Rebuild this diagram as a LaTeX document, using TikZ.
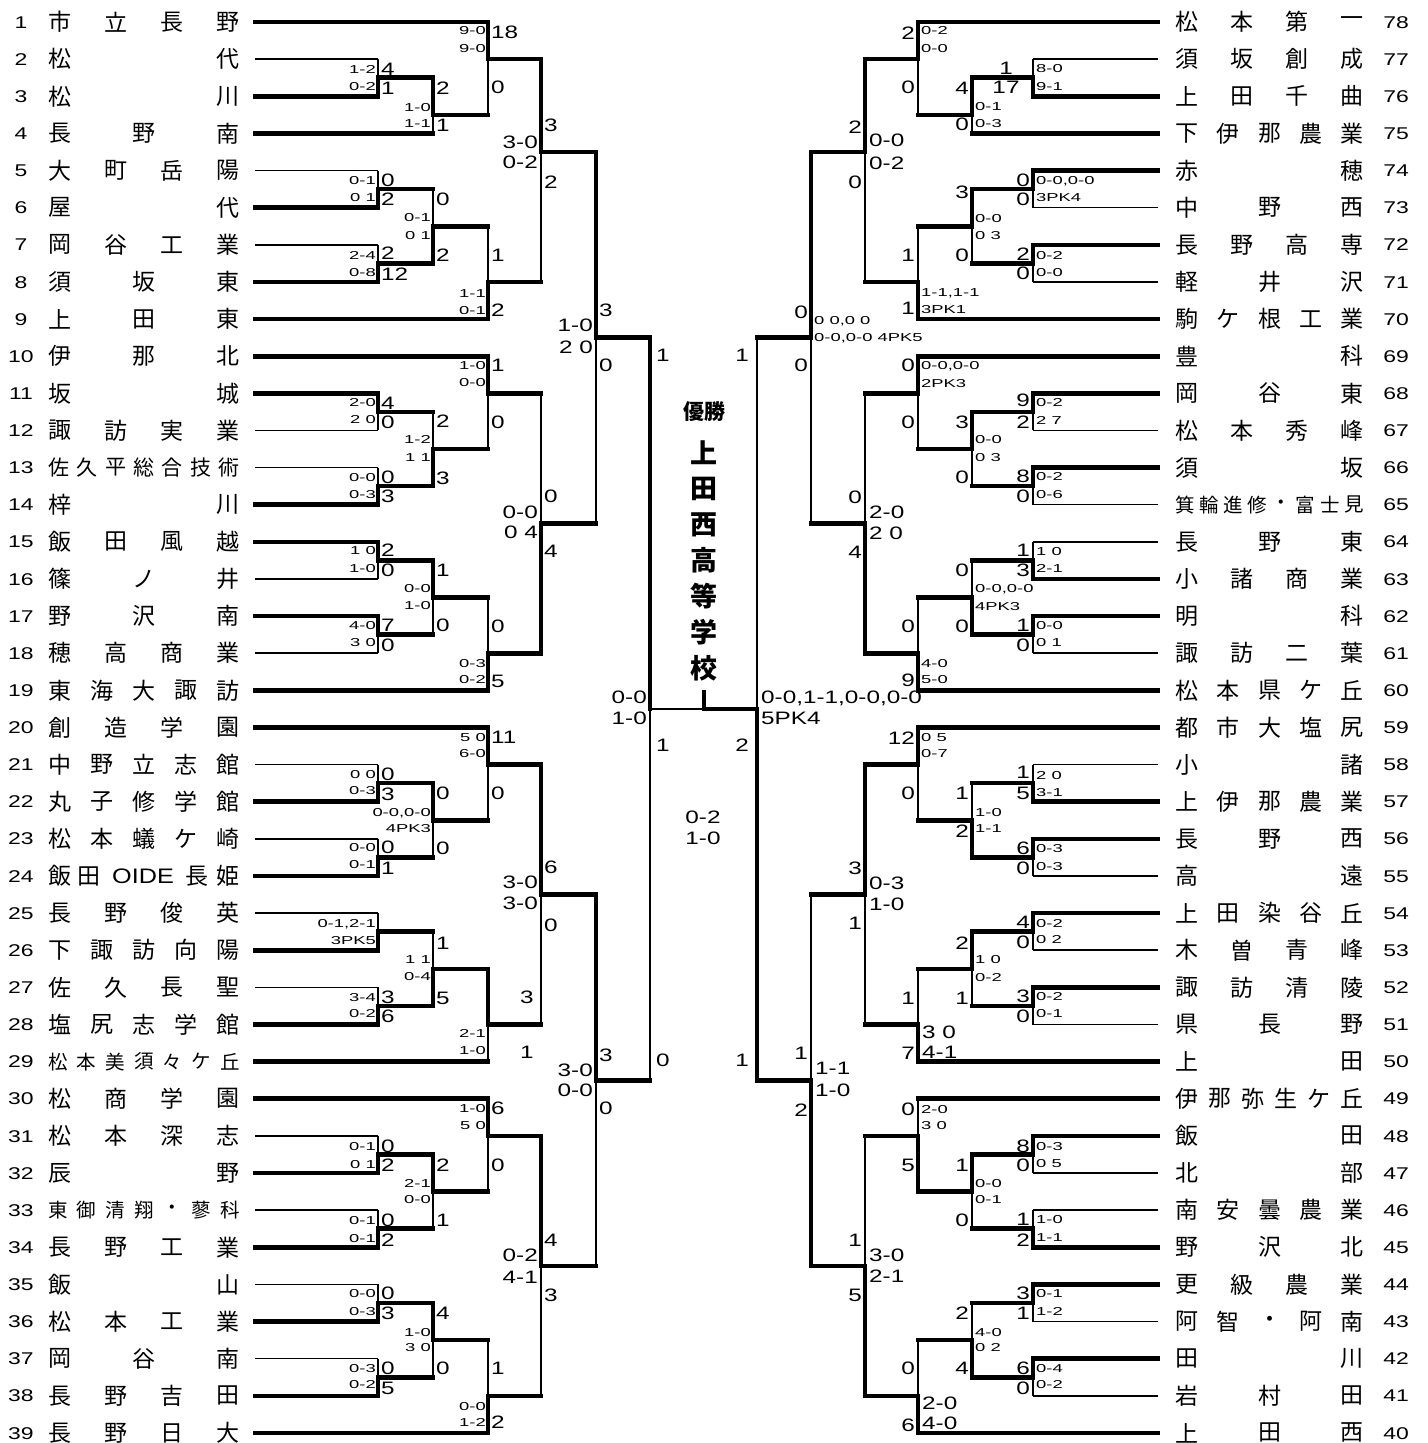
\documentclass[tikz,border=0pt]{standalone}
\usepackage{fontspec}
\setmainfont{Liberation Sans}
\newfontfamily\jp{Noto Sans CJK JP}
\newcount\tc
\tikzset{
 thk/.style={line width=4.6pt, line cap=rect},
 thn/.style={line width=1.5pt},
 hs/.style={inner sep=0pt, font=\fontsize{11.5}{12}\selectfont, text height=8.2pt, text depth=0pt},
 sc/.style={inner sep=0pt, font=\fontsize{18}{19}\selectfont, text height=12.9pt, text depth=0pt},
 num/.style={inner sep=0pt, font=\fontsize{17}{18}\selectfont, text height=12.2pt, text depth=0pt},
 nm/.style={inner sep=0pt, font=\jp\fontsize{23}{24}\selectfont},
 nms/.style={inner sep=0pt, font=\jp\fontsize{21}{22}\selectfont},
 nmt/.style={inner sep=0pt, font=\jp\fontsize{19.5}{20}\selectfont},
 champ/.style={inner sep=0pt, font=\jp\bfseries\fontsize{27}{28}\selectfont},
 champs/.style={inner sep=0pt, font=\jp\bfseries\fontsize{21}{22}\selectfont},
}
\newcommand\sm[1]{\scalebox{1.6}[1]{#1}}
\newcommand\bg[1]{\scalebox{1.35}[1]{#1}}
% bracket pieces
\newcommand\Wt[4]{\draw[thn] (#1,#4)--(#1,#3); \draw[thk] (#1,#2)--(#1,#4);}
\newcommand\Wb[4]{\draw[thn] (#1,#2)--(#1,#4); \draw[thk] (#1,#4)--(#1,#3);}
\newcommand\Hk[3]{\draw[thk] (#1,#3)--(#2,#3);}
\newcommand\Hn[3]{\draw[thn] (#1,#3)--(#2,#3);}
% texts
\newcommand\hL[3]{\global\advance\tc by 1 \node[hs,anchor=east] (t\the\tc) at (#1-2,#2) {\sm{#3}};}
\newcommand\HL[3]{\global\advance\tc by 1 \node[sc,anchor=east] (t\the\tc) at (#1-3,#2) {\bg{#3}};}
\newcommand\sL[3]{\global\advance\tc by 1 \node[sc,anchor=west] (t\the\tc) at (#1+3,#2) {\bg{#3}};}
\newcommand\hR[3]{\global\advance\tc by 1 \node[hs,anchor=west] (t\the\tc) at (#1+3,#2) {\sm{#3}};}
\newcommand\HR[3]{\global\advance\tc by 1 \node[sc,anchor=west] (t\the\tc) at (#1+4,#2) {\bg{#3}};}
\newcommand\sR[3]{\global\advance\tc by 1 \node[sc,anchor=east] (t\the\tc) at (#1-3,#2) {\bg{#3}};}
\newcommand\sC[3]{\global\advance\tc by 1 \node[sc] (t\the\tc) at (#1,#2) {\bg{#3}};}
% names: [style] x0 x1 y n id list
\newcommand\TN[7][nm]{\foreach \c [count=\i] in {#7} {\node[#1] (#6c\i) at ({#2+(\i-1)*(#3-#2)/(#5-1)},#4) {\c};}}
\newcommand\LN[3]{\node[num] (LN#1) at (21,#2) {\bg{#1}};}
\newcommand\RN[3]{\node[num] (RN#1) at (1396,#2) {\bg{#1}};}
\begin{document}
\begin{tikzpicture}[x=1pt,y=-1pt]
\fill[white] (0,0) rectangle (1427,1443);
\useasboundingbox (0,0) rectangle (1427,1443);

% ---------------- LEFT team lines
\foreach \y in {96.3,207.7,281.9,393.3,504.7,541.8,616.1,801.7,876.0,950.2,1024.5,1173.0,1247.3,1321.5,1395.8}
  {\draw[thk] (255,\y)--(378,\y);}
\foreach \y in {59.1,170.5,244.8,430.4,467.6,578.9,653.2,764.6,838.8,913.1,987.4,1135.9,1210.1,1284.4,1358.7}
  {\draw[thn] (255,\y)--(378,\y);}
\draw[thk] (255,133.4)--(433,133.4);
\foreach \y in {22.0,319.0,356.2,690.3,727.5,1061.6,1098.7,1432.9}
  {\draw[thk] (255,\y)--(488,\y);}

% ---------------- LEFT matches
\Wb{378}{59.1}{96.3}{77.7} \Hk{378}{433}{77.7}
\Wt{433}{77.7}{133.4}{114.8} \Hk{433}{488}{114.8}
\Wt{488}{22.0}{114.8}{59.1} \Hk{488}{541}{59.1}
\Wb{378}{170.5}{207.7}{189.1} \Hk{378}{433}{189.1}
\Wb{378}{244.8}{281.9}{263.4} \Hk{378}{433}{263.4}
\Wb{433}{189.1}{263.4}{226.2} \Hk{433}{488}{226.2}
\Wb{488}{226.2}{319.0}{281.9} \Hk{488}{541}{281.9}
\Wt{541}{59.1}{281.9}{152.0} \Hk{541}{596}{152.0}
\Wt{378}{393.3}{430.4}{411.9} \Hk{378}{433}{411.9}
\Wb{378}{467.6}{504.7}{486.1} \Hk{378}{433}{486.1}
\Wb{433}{411.9}{486.1}{449.0} \Hk{433}{488}{449.0}
\Wt{488}{356.2}{449.0}{393.3} \Hk{488}{541}{393.3}
\Wt{378}{541.8}{578.9}{560.4} \Hk{378}{433}{560.4}
\Wt{378}{616.1}{653.2}{634.6} \Hk{378}{433}{634.6}
\Wt{433}{560.4}{634.6}{597.5} \Hk{433}{488}{597.5}
\Wb{488}{597.5}{690.3}{653.2} \Hk{488}{541}{653.2}
\Wb{541}{393.3}{653.2}{523.2} \Hk{541}{596}{523.2}
\Wt{596}{152.0}{523.2}{337.6} \Hk{596}{650}{337.6}
\Wb{378}{764.6}{801.7}{783.1} \Hk{378}{433}{783.1}
\Wb{378}{838.8}{876.0}{857.4} \Hk{378}{433}{857.4}
\Wt{433}{783.1}{857.4}{820.3} \Hk{433}{488}{820.3}
\Wt{488}{727.5}{820.3}{764.6} \Hk{488}{541}{764.6}
\Wb{378}{913.1}{950.2}{931.7} \Hk{378}{433}{931.7}
\Wb{378}{987.4}{1024.5}{1005.9} \Hk{378}{433}{1005.9}
\Wb{433}{931.7}{1005.9}{968.8} \Hk{433}{488}{968.8}
\Wt{488}{968.8}{1061.6}{1024.5} \Hk{488}{541}{1024.5}
\Wt{541}{764.6}{1024.5}{894.5} \Hk{541}{596}{894.5}
\Wb{378}{1135.9}{1173.0}{1154.4} \Hk{378}{433}{1154.4}
\Wb{378}{1210.1}{1247.3}{1228.7} \Hk{378}{433}{1228.7}
\Wt{433}{1154.4}{1228.7}{1191.6} \Hk{433}{488}{1191.6}
\Wt{488}{1098.7}{1191.6}{1135.9} \Hk{488}{541}{1135.9}
\Wb{378}{1284.4}{1321.5}{1303.0} \Hk{378}{433}{1303.0}
\Wb{378}{1358.7}{1395.8}{1377.2} \Hk{378}{433}{1377.2}
\Wt{433}{1303.0}{1377.2}{1340.1} \Hk{433}{488}{1340.1}
\Wb{488}{1340.1}{1432.9}{1395.8} \Hk{488}{541}{1395.8}
\Wt{541}{1135.9}{1395.8}{1265.8} \Hk{541}{596}{1265.8}
\Wt{596}{894.5}{1265.8}{1080.2} \Hk{596}{650}{1080.2}
\Wt{650}{337.6}{1080.2}{708.9}

% ---------------- RIGHT team lines
\foreach \y in {96.3,170.5,244.8,393.3,467.6,578.9,616.1,801.7,838.8,913.1,987.4,1135.9,1247.3,1284.4,1358.7}
  {\draw[thk] (1158,\y)--(1033,\y);}
\foreach \y in {59.1,207.7,281.9,430.4,504.7,541.8,653.2,764.6,876.0,950.2,1024.5,1173.0,1210.1,1321.5,1395.8}
  {\draw[thn] (1158,\y)--(1033,\y);}
\draw[thk] (1158,133.4)--(972,133.4);
\foreach \y in {22.0,319.0,356.2,690.3,727.5,1061.6,1098.7,1432.9}
  {\draw[thk] (1158,\y)--(918,\y);}

% ---------------- RIGHT matches
\Wb{1033}{59.1}{96.3}{77.7} \Hk{1033}{972}{77.7}
\Wt{972}{77.7}{133.4}{114.8} \Hk{972}{918}{114.8}
\Wt{918}{22.0}{114.8}{59.1} \Hk{918}{865}{59.1}
\Wt{1033}{170.5}{207.7}{189.1} \Hk{1033}{972}{189.1}
\Wt{1033}{244.8}{281.9}{263.4} \Hk{1033}{972}{263.4}
\Wt{972}{189.1}{263.4}{226.2} \Hk{972}{918}{226.2}
\Wb{918}{226.2}{319.0}{281.9} \Hk{918}{865}{281.9}
\Wt{865}{59.1}{281.9}{152.0} \Hk{865}{811}{152.0}
\Wt{1033}{393.3}{430.4}{411.9} \Hk{1033}{972}{411.9}
\Wt{1033}{467.6}{504.7}{486.1} \Hk{1033}{972}{486.1}
\Wt{972}{411.9}{486.1}{449.0} \Hk{972}{918}{449.0}
\Wt{918}{356.2}{449.0}{393.3} \Hk{918}{865}{393.3}
\Wb{1033}{541.8}{578.9}{560.4} \Hk{1033}{972}{560.4}
\Wt{1033}{616.1}{653.2}{634.6} \Hk{1033}{972}{634.6}
\Wb{972}{560.4}{634.6}{597.5} \Hk{972}{918}{597.5}
\Wb{918}{597.5}{690.3}{653.2} \Hk{918}{865}{653.2}
\Wb{865}{393.3}{653.2}{523.2} \Hk{865}{811}{523.2}
\Wt{811}{152.0}{523.2}{337.6} \Hk{811}{757}{337.6}
\Wb{1033}{764.6}{801.7}{783.1} \Hk{1033}{972}{783.1}
\Wt{1033}{838.8}{876.0}{857.4} \Hk{1033}{972}{857.4}
\Wb{972}{783.1}{857.4}{820.3} \Hk{972}{918}{820.3}
\Wt{918}{727.5}{820.3}{764.6} \Hk{918}{865}{764.6}
\Wt{1033}{913.1}{950.2}{931.7} \Hk{1033}{972}{931.7}
\Wt{1033}{987.4}{1024.5}{1005.9} \Hk{1033}{972}{1005.9}
\Wt{972}{931.7}{1005.9}{968.8} \Hk{972}{918}{968.8}
\Wb{918}{968.8}{1061.6}{1024.5} \Hk{918}{865}{1024.5}
\Wt{865}{764.6}{1024.5}{894.5} \Hk{865}{811}{894.5}
\Wt{1033}{1135.9}{1173.0}{1154.4} \Hk{1033}{972}{1154.4}
\Wb{1033}{1210.1}{1247.3}{1228.7} \Hk{1033}{972}{1228.7}
\Wt{972}{1154.4}{1228.7}{1191.6} \Hk{972}{918}{1191.6}
\Wb{918}{1098.7}{1191.6}{1135.9} \Hk{918}{865}{1135.9}
\Wt{1033}{1284.4}{1321.5}{1303.0} \Hk{1033}{972}{1303.0}
\Wt{1033}{1358.7}{1395.8}{1377.2} \Hk{1033}{972}{1377.2}
\Wb{972}{1303.0}{1377.2}{1340.1} \Hk{972}{918}{1340.1}
\Wb{918}{1340.1}{1432.9}{1395.8} \Hk{918}{865}{1395.8}
\Wb{865}{1135.9}{1395.8}{1265.8} \Hk{865}{811}{1265.8}
\Wb{811}{894.5}{1265.8}{1080.2} \Hk{811}{757}{1080.2}
\Wb{757}{337.6}{1080.2}{708.9}

% ---------------- FINAL
\draw[thn] (650,708.9)--(704,708.9);
\draw[thk] (704,708.9)--(757,708.9);
\draw[thk] (704,692)--(704,708.9);

% ---------------- LEFT scores
\hL{378}{69}{1-2} \hL{378}{86}{0-2} \sL{378}{69}{4} \sL{378}{88}{1}
\hL{433}{107}{1-0} \hL{433}{123}{1-1} \sL{433}{88}{2} \sL{433}{125}{1}
\hL{488}{30}{9-0} \hL{488}{48}{9-0} \sL{488}{32}{18} \sL{488}{87}{0}
\hL{378}{180}{0-1} \hL{378}{197}{0 1} \sL{378}{180}{0} \sL{378}{199}{2}
\hL{378}{255}{2-4} \hL{378}{272}{0-8} \sL{378}{253}{2} \sL{378}{274}{12}
\hL{433}{217}{0-1} \hL{433}{235}{0 1} \sL{433}{199}{0} \sL{433}{255}{2}
\hL{488}{293}{1-1} \hL{488}{310}{0-1} \sL{488}{255}{1} \sL{488}{310}{2}
\HL{541}{142}{3-0} \HL{541}{162}{0-2} \sL{541}{125}{3} \sL{541}{182}{2}
\hL{378}{402}{2-0} \hL{378}{419}{2 0} \sL{378}{403}{4} \sL{378}{422}{0}
\hL{378}{477}{0-0} \hL{378}{494}{0-3} \sL{378}{477}{0} \sL{378}{496}{3}
\hL{433}{439}{1-2} \hL{433}{457}{1 1} \sL{433}{421}{2} \sL{433}{478}{3}
\hL{488}{365}{1-0} \hL{488}{382}{0-0} \sL{488}{365}{1} \sL{488}{422}{0}
\hL{378}{550}{1 0} \hL{378}{568}{1-0} \sL{378}{550}{2} \sL{378}{570}{0}
\hL{378}{625}{4-0} \hL{378}{642}{3 0} \sL{378}{625}{7} \sL{378}{645}{0}
\hL{433}{588}{0-0} \hL{433}{605}{1-0} \sL{433}{570}{1} \sL{433}{625}{0}
\hL{488}{663}{0-3} \hL{488}{679}{0-2} \sL{488}{626}{0} \sL{488}{681}{5}
\HL{541}{512}{0-0} \HL{541}{532}{0 4} \sL{541}{496}{0} \sL{541}{551}{4}
\HL{596}{325}{1-0} \HL{596}{347}{2 0} \sL{596}{310}{3} \sL{596}{365}{0}
\hL{378}{774}{0 0} \hL{378}{790}{0-3} \sL{378}{774}{0} \sL{378}{794}{3}
\hL{378}{847}{0-0} \hL{378}{864}{0-1} \sL{378}{847}{0} \sL{378}{868}{1}
\hL{433}{812}{0-0,0-0} \hL{433}{828}{4PK3} \sL{433}{793}{0} \sL{433}{848}{0}
\hL{488}{737}{5 0} \hL{488}{753}{6-0} \sL{488}{737}{11} \sL{488}{793}{0}
\hL{378}{923}{0-1,2-1} \hL{378}{940}{3PK5}
\hL{378}{997}{3-4} \hL{378}{1013}{0-2} \sL{378}{997}{3} \sL{378}{1016}{6}
\hL{433}{959}{1 1} \hL{433}{976}{0-4} \sL{433}{943}{1} \sL{433}{998}{5}
\hL{488}{1033}{2-1} \hL{488}{1050}{1-0} \sC{527}{997}{3} \sC{527}{1052}{1}
\HL{541}{882}{3-0} \HL{541}{903}{3-0} \sL{541}{867}{6} \sL{541}{925}{0}
\hL{378}{1146}{0-1} \hL{378}{1164}{0 1} \sL{378}{1146}{0} \sL{378}{1165}{2}
\hL{378}{1220}{0-1} \hL{378}{1238}{0-1} \sL{378}{1220}{0} \sL{378}{1240}{2}
\hL{433}{1183}{2-1} \hL{433}{1199}{0-0} \sL{433}{1165}{2} \sL{433}{1220}{1}
\hL{488}{1108}{1-0} \hL{488}{1125}{5 0} \sL{488}{1108}{6} \sL{488}{1165}{0}
\hL{378}{1293}{0-0} \hL{378}{1311}{0-3} \sL{378}{1293}{0} \sL{378}{1313}{3}
\hL{378}{1368}{0-3} \hL{378}{1384}{0-2} \sL{378}{1368}{0} \sL{378}{1388}{5}
\hL{433}{1332}{1-0} \hL{433}{1347}{3 0} \sL{433}{1313}{4} \sL{433}{1368}{0}
\hL{488}{1406}{0-0} \hL{488}{1422}{1-2} \sL{488}{1368}{1} \sL{488}{1422}{2}
\HL{541}{1255}{0-2} \HL{541}{1277}{4-1} \sL{541}{1240}{4} \sL{541}{1295}{3}
\HL{596}{1070}{3-0} \HL{596}{1090}{0-0} \sL{596}{1055}{3} \sL{596}{1108}{0}
\HL{650}{697}{0-0} \HL{650}{718}{1-0} \sL{653}{355}{1} \sL{653}{1060}{0}
% final
\sL{653}{745}{1} \sR{752}{745}{2} \sC{703}{817}{0-2} \sC{703}{838}{1-0}

% ---------------- RIGHT scores
\hR{1033}{68}{8-0} \hR{1033}{86}{9-1} \sC{1006}{68}{1} \sC{1006}{87}{17}
\hR{972}{106}{0-1} \hR{972}{123}{0-3} \sR{972}{88}{4} \sR{972}{124}{0}
\hR{918}{30}{0-2} \hR{918}{48}{0-0} \sR{918}{33}{2} \sR{918}{87}{0}
\hR{1033}{180}{0-0,0-0} \hR{1033}{197}{3PK4} \sR{1033}{180}{0} \sR{1033}{199}{0}
\hR{1033}{255}{0-2} \hR{1033}{272}{0-0} \sR{1033}{254}{2} \sR{1033}{273}{0}
\hR{972}{218}{0-0} \hR{972}{235}{0 3} \sR{972}{192}{3} \sR{972}{255}{0}
\hR{918}{292}{1-1,1-1} \hR{918}{309}{3PK1} \sR{918}{255}{1} \sR{918}{308}{1}
\HR{865}{140}{0-0} \HR{865}{163}{0-2} \sR{865}{127}{2} \sR{865}{182}{0}
\hR{1033}{402}{0-2} \hR{1033}{420}{2 7} \sR{1033}{400}{9} \sR{1033}{422}{2}
\hR{1033}{476}{0-2} \hR{1033}{494}{0-6} \sR{1033}{476}{8} \sR{1033}{496}{0}
\hR{972}{439}{0-0} \hR{972}{457}{0 3} \sR{972}{422}{3} \sR{972}{477}{0}
\hR{918}{365}{0-0,0-0} \hR{918}{383}{2PK3} \sR{918}{365}{0} \sR{918}{422}{0}
\hR{1033}{551}{1 0} \hR{1033}{568}{2-1} \sR{1033}{550}{1} \sR{1033}{570}{3}
\hR{1033}{625}{0-0} \hR{1033}{642}{0 1} \sR{1033}{625}{1} \sR{1033}{645}{0}
\hR{972}{588}{0-0,0-0} \hR{972}{606}{4PK3} \sR{972}{570}{0} \sR{972}{626}{0}
\hR{918}{663}{4-0} \hR{918}{679}{5-0} \sR{918}{626}{0} \sR{918}{680}{9}
\HR{865}{512}{2-0} \HR{865}{533}{2 0} \sR{865}{497}{0} \sR{865}{552}{4}
\hR{811}{320}{0 0,0 0} \hR{811}{337}{0-0,0-0 4PK5} \sR{811}{312}{0} \sR{811}{365}{0}
\hR{1033}{775}{2 0} \hR{1033}{792}{3-1} \sR{1033}{772}{1} \sR{1033}{793}{5}
\hR{1033}{848}{0-3} \hR{1033}{866}{0-3} \sR{1033}{848}{6} \sR{1033}{868}{0}
\hR{972}{812}{1-0} \hR{972}{828}{1-1} \sR{972}{793}{1} \sR{972}{831}{2}
\hR{918}{737}{0 5} \hR{918}{753}{0-7} \sR{918}{738}{12} \sR{918}{793}{0}
\hR{1033}{923}{0-2} \hR{1033}{939}{0 2} \sR{1033}{922}{4} \sR{1033}{942}{0}
\hR{1033}{996}{0-2} \hR{1033}{1013}{0-1} \sR{1033}{996}{3} \sR{1033}{1016}{0}
\hR{972}{959}{1 0} \hR{972}{977}{0-2} \sR{972}{943}{2} \sR{972}{998}{1}
\HR{918}{1032}{3 0} \HR{918}{1052}{4-1} \sR{918}{998}{1} \sR{918}{1053}{7}
\HR{865}{883}{0-3} \HR{865}{904}{1-0} \sR{865}{868}{3} \sR{865}{923}{1}
\hR{1033}{1146}{0-3} \hR{1033}{1163}{0 5} \sR{1033}{1146}{8} \sR{1033}{1165}{0}
\hR{1033}{1219}{1-0} \hR{1033}{1237}{1-1} \sR{1033}{1219}{1} \sR{1033}{1240}{2}
\hR{972}{1183}{0-0} \hR{972}{1199}{0-1} \sR{972}{1165}{1} \sR{972}{1220}{0}
\hR{918}{1109}{2-0} \hR{918}{1125}{3 0} \sR{918}{1109}{0} \sR{918}{1165}{5}
\hR{1033}{1293}{0-1} \hR{1033}{1311}{1-2} \sR{1033}{1293}{3} \sR{1033}{1313}{1}
\hR{1033}{1368}{0-4} \hR{1033}{1384}{0-2} \sR{1033}{1368}{6} \sR{1033}{1388}{0}
\hR{972}{1332}{4-0} \hR{972}{1347}{0 2} \sR{972}{1313}{2} \sR{972}{1368}{4}
\HR{918}{1403}{2-0} \HR{918}{1423}{4-0} \sR{918}{1368}{0} \sR{918}{1425}{6}
\HR{865}{1255}{3-0} \HR{865}{1276}{2-1} \sR{865}{1240}{1} \sR{865}{1295}{5}
\HR{811}{1068}{1-1} \HR{811}{1090}{1-0} \sR{811}{1053}{1} \sR{811}{1110}{2}
\HR{757}{697}{0-0,1-1,0-0,0-0} \HR{757}{718}{5PK4} \sR{752}{355}{1} \sR{752}{1060}{1}

% ---------------- champion
\node[champs] (win) at (704,412) {優勝};
\foreach \c [count=\i] in {上,田,西,高,等,学,校}
  {\node[champ] (ch\i) at (704,{453+(\i-1)*35.8}) {\c};}

% ---------------- LEFT names
\LN{1}{22.0}{} \TN{60}{228}{22.0}{4}{L1}{市,立,長,野}
\LN{2}{59.1}{} \TN{60}{228}{59.1}{2}{L2}{松,代}
\LN{3}{96.3}{} \TN{60}{228}{96.3}{2}{L3}{松,川}
\LN{4}{133.4}{} \TN{60}{228}{133.4}{3}{L4}{長,野,南}
\LN{5}{170.5}{} \TN{60}{228}{170.5}{4}{L5}{大,町,岳,陽}
\LN{6}{207.7}{} \TN{60}{228}{207.7}{2}{L6}{屋,代}
\LN{7}{244.8}{} \TN{60}{228}{244.8}{4}{L7}{岡,谷,工,業}
\LN{8}{281.9}{} \TN{60}{228}{281.9}{3}{L8}{須,坂,東}
\LN{9}{319.0}{} \TN{60}{228}{319.0}{3}{L9}{上,田,東}
\LN{10}{356.2}{} \TN{60}{228}{356.2}{3}{L10}{伊,那,北}
\LN{11}{393.3}{} \TN{60}{228}{393.3}{2}{L11}{坂,城}
\LN{12}{430.4}{} \TN{60}{228}{430.4}{4}{L12}{諏,訪,実,業}
\LN{13}{467.6}{} \TN[nms]{59}{229}{467.6}{7}{L13}{佐,久,平,総,合,技,術}
\LN{14}{504.7}{} \TN{60}{228}{504.7}{2}{L14}{梓,川}
\LN{15}{541.8}{} \TN{60}{228}{541.8}{4}{L15}{飯,田,風,越}
\LN{16}{578.9}{} \TN{60}{228}{578.9}{3}{L16}{篠,ノ,井}
\LN{17}{616.1}{} \TN{60}{228}{616.1}{3}{L17}{野,沢,南}
\LN{18}{653.2}{} \TN{60}{228}{653.2}{4}{L18}{穂,高,商,業}
\LN{19}{690.3}{} \TN{60}{228}{690.3}{5}{L19}{東,海,大,諏,訪}
\LN{20}{727.5}{} \TN{60}{228}{727.5}{4}{L20}{創,造,学,園}
\LN{21}{764.6}{} \TN{60}{228}{764.6}{5}{L21}{中,野,立,志,館}
\LN{22}{801.7}{} \TN{60}{228}{801.7}{5}{L22}{丸,子,修,学,館}
\LN{23}{838.8}{} \TN{60}{228}{838.8}{5}{L23}{松,本,蟻,ケ,崎}
\LN{24}{876.0}{}
\node[nm] (L24c1) at (60,876.0) {飯};
\node[nm] (L24c2) at (89,876.0) {田};
\node[inner sep=0pt,font=\fontsize{21}{22}\selectfont] (L24c3) at (143,876.0) {\scalebox{1.2}[1]{OIDE}};
\node[nm] (L24c4) at (197,876.0) {長};
\node[nm] (L24c5) at (228,876.0) {姫};
\LN{25}{913.1}{} \TN{60}{228}{913.1}{4}{L25}{長,野,俊,英}
\LN{26}{950.2}{} \TN{60}{228}{950.2}{5}{L26}{下,諏,訪,向,陽}
\LN{27}{987.4}{} \TN{60}{228}{987.4}{4}{L27}{佐,久,長,聖}
\LN{28}{1024.5}{} \TN{60}{228}{1024.5}{5}{L28}{塩,尻,志,学,館}
\LN{29}{1061.6}{} \TN[nmt]{58}{230}{1061.6}{7}{L29}{松,本,美,須,々,ケ,丘}
\LN{30}{1098.7}{} \TN{60}{228}{1098.7}{4}{L30}{松,商,学,園}
\LN{31}{1135.9}{} \TN{60}{228}{1135.9}{4}{L31}{松,本,深,志}
\LN{32}{1173.0}{} \TN{60}{228}{1173.0}{2}{L32}{辰,野}
\LN{33}{1210.1}{} \TN[nmt]{58}{230}{1210.1}{7}{L33}{東,御,清,翔,・,蓼,科}
\LN{34}{1247.3}{} \TN{60}{228}{1247.3}{4}{L34}{長,野,工,業}
\LN{35}{1284.4}{} \TN{60}{228}{1284.4}{2}{L35}{飯,山}
\LN{36}{1321.5}{} \TN{60}{228}{1321.5}{4}{L36}{松,本,工,業}
\LN{37}{1358.7}{} \TN{60}{228}{1358.7}{3}{L37}{岡,谷,南}
\LN{38}{1395.8}{} \TN{60}{228}{1395.8}{4}{L38}{長,野,吉,田}
\LN{39}{1432.9}{} \TN{60}{228}{1432.9}{4}{L39}{長,野,日,大}

% ---------------- RIGHT names
\RN{78}{22.0}{} \TN{1187}{1352}{22.0}{4}{R78}{松,本,第,一}
\RN{77}{59.1}{} \TN{1187}{1352}{59.1}{4}{R77}{須,坂,創,成}
\RN{76}{96.3}{} \TN{1187}{1352}{96.3}{4}{R76}{上,田,千,曲}
\RN{75}{133.4}{} \TN{1187}{1352}{133.4}{5}{R75}{下,伊,那,農,業}
\RN{74}{170.5}{} \TN{1187}{1352}{170.5}{2}{R74}{赤,穂}
\RN{73}{207.7}{} \TN{1187}{1352}{207.7}{3}{R73}{中,野,西}
\RN{72}{244.8}{} \TN{1187}{1352}{244.8}{4}{R72}{長,野,高,専}
\RN{71}{281.9}{} \TN{1187}{1352}{281.9}{3}{R71}{軽,井,沢}
\RN{70}{319.0}{} \TN{1187}{1352}{319.0}{5}{R70}{駒,ケ,根,工,業}
\RN{69}{356.2}{} \TN{1187}{1352}{356.2}{2}{R69}{豊,科}
\RN{68}{393.3}{} \TN{1187}{1352}{393.3}{3}{R68}{岡,谷,東}
\RN{67}{430.4}{} \TN{1187}{1352}{430.4}{4}{R67}{松,本,秀,峰}
\RN{66}{467.6}{} \TN{1187}{1352}{467.6}{2}{R66}{須,坂}
\RN{65}{504.7}{} \TN[nmt]{1185}{1354}{504.7}{8}{R65}{箕,輪,進,修,・,富,士,見}
\RN{64}{541.8}{} \TN{1187}{1352}{541.8}{3}{R64}{長,野,東}
\RN{63}{578.9}{} \TN{1187}{1352}{578.9}{4}{R63}{小,諸,商,業}
\RN{62}{616.1}{} \TN{1187}{1352}{616.1}{2}{R62}{明,科}
\RN{61}{653.2}{} \TN{1187}{1352}{653.2}{4}{R61}{諏,訪,二,葉}
\RN{60}{690.3}{} \TN{1187}{1352}{690.3}{5}{R60}{松,本,県,ケ,丘}
\RN{59}{727.5}{} \TN{1187}{1352}{727.5}{5}{R59}{都,市,大,塩,尻}
\RN{58}{764.6}{} \TN{1187}{1352}{764.6}{2}{R58}{小,諸}
\RN{57}{801.7}{} \TN{1187}{1352}{801.7}{5}{R57}{上,伊,那,農,業}
\RN{56}{838.8}{} \TN{1187}{1352}{838.8}{3}{R56}{長,野,西}
\RN{55}{876.0}{} \TN{1187}{1352}{876.0}{2}{R55}{高,遠}
\RN{54}{913.1}{} \TN{1187}{1352}{913.1}{5}{R54}{上,田,染,谷,丘}
\RN{53}{950.2}{} \TN{1187}{1352}{950.2}{4}{R53}{木,曽,青,峰}
\RN{52}{987.4}{} \TN{1187}{1352}{987.4}{4}{R52}{諏,訪,清,陵}
\RN{51}{1024.5}{} \TN{1187}{1352}{1024.5}{3}{R51}{県,長,野}
\RN{50}{1061.6}{} \TN{1187}{1352}{1061.6}{2}{R50}{上,田}
\RN{49}{1098.7}{} \TN{1187}{1352}{1098.7}{6}{R49}{伊,那,弥,生,ケ,丘}
\RN{48}{1135.9}{} \TN{1187}{1352}{1135.9}{2}{R48}{飯,田}
\RN{47}{1173.0}{} \TN{1187}{1352}{1173.0}{2}{R47}{北,部}
\RN{46}{1210.1}{} \TN{1187}{1352}{1210.1}{5}{R46}{南,安,曇,農,業}
\RN{45}{1247.3}{} \TN{1187}{1352}{1247.3}{3}{R45}{野,沢,北}
\RN{44}{1284.4}{} \TN{1187}{1352}{1284.4}{4}{R44}{更,級,農,業}
\RN{43}{1321.5}{} \TN{1187}{1352}{1321.5}{5}{R43}{阿,智,・,阿,南}
\RN{42}{1358.7}{} \TN{1187}{1352}{1358.7}{2}{R42}{田,川}
\RN{41}{1395.8}{} \TN{1187}{1352}{1395.8}{3}{R41}{岩,村,田}
\RN{40}{1432.9}{} \TN{1187}{1352}{1432.9}{3}{R40}{上,田,西}
\end{tikzpicture}
\end{document}
